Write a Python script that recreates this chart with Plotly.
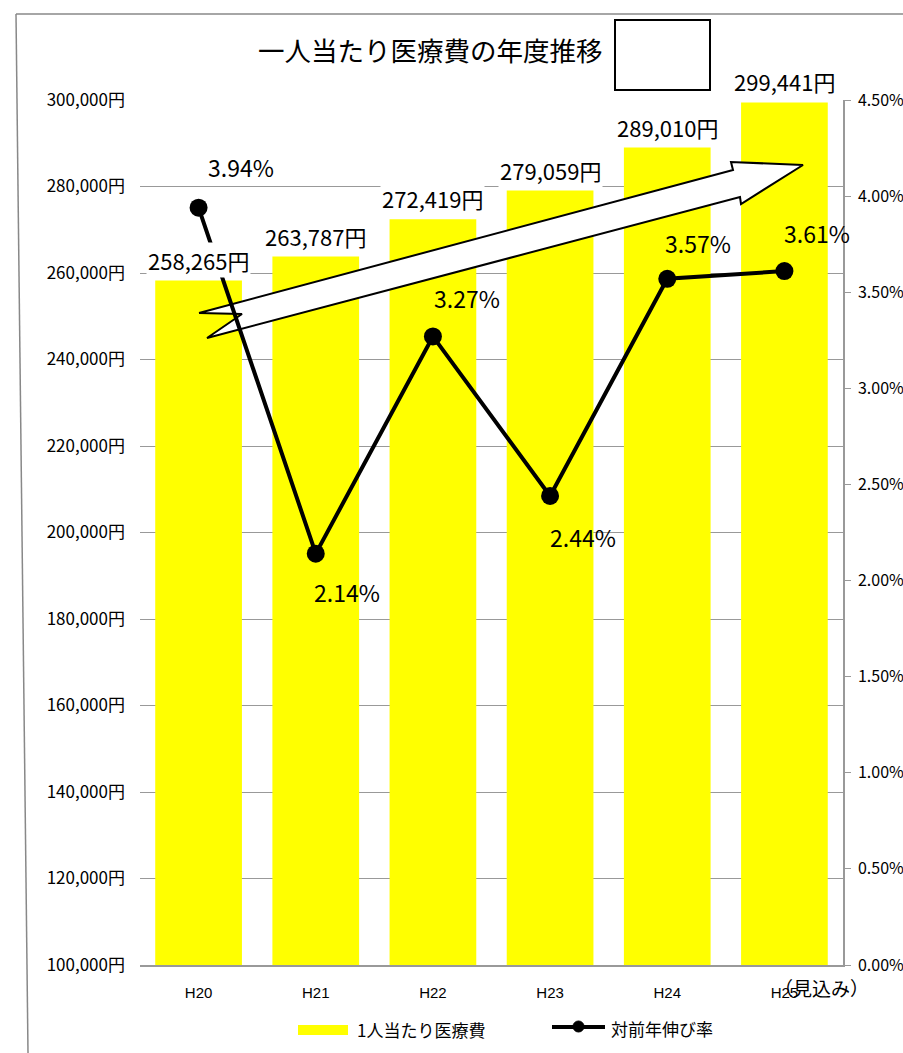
import plotly.graph_objects as go

# 年度と一人当たり医療費（円）、対前年伸び率（%）
years = ["H20", "H21", "H22", "H23", "H24", "H25"]
cost_per_person = [258265, 263787, 272419, 279059, 289010, 299441]
growth_rate = [3.94, 2.14, 3.27, 2.44, 3.57, 3.61]

yen_ticks = list(range(100000, 300001, 20000))
pct_ticks = [i * 0.5 for i in range(10)]

series_names = ["1人当たり医療費", "対前年伸び率"]

# figure geometry (px)
W, H = 903, 1053
L, R, T, B = 140, 60, 100, 88
PW, PH = W - L - R, H - T - B
X_RANGE = [-0.5, 5.5]
Y2_RANGE = [0, 4.5]

JP = "Noto Sans CJK JP"
x_pos = list(range(len(years)))


def px_to_x(px):
    return X_RANGE[0] + (px - L) / PW * (X_RANGE[1] - X_RANGE[0])


def px_to_y2(py):
    return Y2_RANGE[0] + (T + PH - py) / PH * (Y2_RANGE[1] - Y2_RANGE[0])


def px_to_paper(px, py):
    return (px - L) / PW, (T + PH - py) / PH


fig = go.Figure()

fig.add_trace(go.Bar(
    x=x_pos, y=cost_per_person, name=series_names[0],
    marker=dict(color="#FFFF00", line=dict(width=0)),
    width=0.74, yaxis="y", hoverinfo="skip", showlegend=False,
))

# decorative upward arrow (drawn beneath the growth line)
arrow_px = [(199, 313), (733, 170), (731, 162), (803, 165), (741, 204),
            (740, 197), (207, 338), (242, 314), (199, 313)]
fig.add_trace(go.Scatter(
    x=[px_to_x(p[0]) for p in arrow_px],
    y=[px_to_y2(p[1]) for p in arrow_px],
    mode="lines", fill="toself", fillcolor="white",
    line=dict(color="black", width=2), yaxis="y2",
    showlegend=False, hoverinfo="skip",
))

fig.add_trace(go.Scatter(
    x=x_pos, y=growth_rate, name=series_names[1], yaxis="y2",
    mode="lines+markers",
    line=dict(color="black", width=4),
    marker=dict(color="black", size=18),
    hoverinfo="skip", showlegend=False,
))

annotations = []
# bar value labels
for xi, v in zip(x_pos, cost_per_person):
    annotations.append(dict(
        x=xi, y=v, xref="x", yref="y", text=f"{v:,}円",
        showarrow=False, yanchor="bottom", yshift=3,
        font=dict(family=JP, size=22, color="black"),
        bgcolor="white", borderpad=1,
    ))

# growth-rate labels (pixel offsets from each marker)
rate_label_offsets = [(42, -41), (31, 38), (34, -38), (33, 41), (31, -36), (33, -38)]
for xi, p, (dx, dy) in zip(x_pos, growth_rate, rate_label_offsets):
    annotations.append(dict(
        x=xi, y=p, xref="x", yref="y2", text=f"{p:.2f}%",
        showarrow=False, xshift=dx, yshift=-dy,
        font=dict(family=JP, size=23, color="black"),
    ))

# estimate note next to the last year
annotations.append(dict(
    x=5, y=0, xref="x", yref="paper", text="（見込み）",
    showarrow=False, xshift=37, yshift=-22, yanchor="middle",
    font=dict(family=JP, size=19, color="black"),
))

# title
tx, ty = px_to_paper(430, 50)
annotations.append(dict(
    x=tx, y=ty, xref="paper", yref="paper", text="一人当たり医療費の年度推移",
    showarrow=False, xanchor="center", yanchor="middle",
    font=dict(family=JP, size=26.5, color="black"),
))

shapes = []
bx0, by0 = px_to_paper(615, 90)
bx1, by1 = px_to_paper(710, 20)
shapes.append(dict(type="rect", xref="paper", yref="paper",
                   x0=bx0, y0=by0, x1=bx1, y1=by1,
                   line=dict(color="black", width=2), fillcolor="white"))
# outer frame lines
fx0, fy0 = px_to_paper(16, 14)
fx1, fy1 = px_to_paper(28, 1053)
fx2, _ = px_to_paper(903, 14)
shapes.append(dict(type="line", xref="paper", yref="paper",
                   x0=fx0, y0=fy0, x1=fx1, y1=fy1,
                   line=dict(color="#888888", width=1.5)))
shapes.append(dict(type="line", xref="paper", yref="paper",
                   x0=fx0, y0=fy0, x1=fx2, y1=fy0,
                   line=dict(color="#888888", width=1.5)))

# legend keys
k0x0, k0y0 = px_to_paper(298, 1035)
k0x1, k0y1 = px_to_paper(348, 1025)
shapes.append(dict(type="rect", xref="paper", yref="paper",
                   x0=k0x0, y0=k0y0, x1=k0x1, y1=k0y1,
                   line=dict(width=0), fillcolor="#FFFF00"))
k1x0, k1y = px_to_paper(552, 1027)
k1x1, _ = px_to_paper(605, 1027)
shapes.append(dict(type="line", xref="paper", yref="paper",
                   x0=k1x0, y0=k1y, x1=k1x1, y1=k1y,
                   line=dict(color="black", width=4)))
cx0, cy0 = px_to_paper(573, 1032)
cx1, cy1 = px_to_paper(584, 1021)
shapes.append(dict(type="circle", xref="paper", yref="paper",
                   x0=cx0, y0=cy0, x1=cx1, y1=cy1,
                   line=dict(color="black", width=1), fillcolor="black"))
for (px, py), label in zip([(355, 1029), (609, 1028)], series_names):
    lx, ly = px_to_paper(px, py)
    annotations.append(dict(
        x=lx, y=ly, xref="paper", yref="paper", text=label,
        showarrow=False, xanchor="left", yanchor="middle",
        font=dict(family=JP, size=17, color="black"),
    ))

fig.update_layout(
    width=W, height=H,
    margin=dict(l=L, r=R, t=T, b=B, autoexpand=False),
    paper_bgcolor="white", plot_bgcolor="white",
    showlegend=False,
    xaxis=dict(
        range=X_RANGE, tickvals=x_pos, ticktext=years,
        showgrid=False, zeroline=False, automargin=False,
        showline=True, linecolor="#999999", linewidth=1.5,
        ticks="", ticklabelstandoff=13,
        tickfont=dict(family="Liberation Sans", size=15, color="black"),
    ),
    yaxis=dict(
        range=[yen_ticks[0], yen_ticks[-1]], tickvals=yen_ticks,
        ticktext=[f"{v:,}円" for v in yen_ticks],
        showgrid=True, gridcolor="#999999", gridwidth=1,
        zeroline=False, showline=False, ticks="", automargin=False,
        ticklabelstandoff=14,
        tickfont=dict(family=JP, size=17, color="black"),
    ),
    yaxis2=dict(
        range=Y2_RANGE, overlaying="y", side="right",
        tickvals=pct_ticks, ticktext=[f"{v:.2f}%" for v in pct_ticks],
        showgrid=False, zeroline=False, automargin=False,
        showline=True, linecolor="#999999", linewidth=1.5,
        ticks="outside", ticklen=6, tickcolor="#999999",
        ticklabelstandoff=4,
        tickfont=dict(family=JP, size=16, color="black"),
    ),
    annotations=annotations,
    shapes=shapes,
)

fig.write_html("out.html")
